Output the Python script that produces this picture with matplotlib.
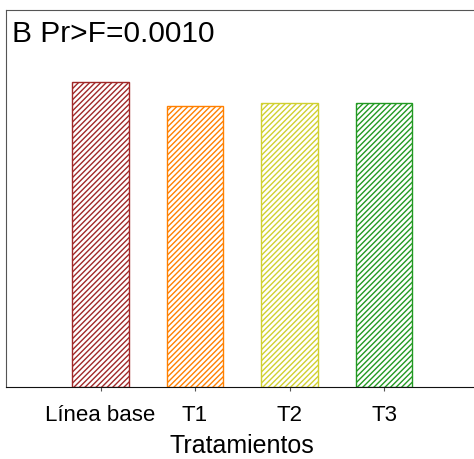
import matplotlib
matplotlib.use("Agg")
import matplotlib.pyplot as plt

categories = ["Línea base", "T1", "T2", "T3"]
values = [80.9, 74.5, 75.3, 75.3]
colors = ["#a02828", "#ff8000", "#d0d030", "#229922"]
annotation = "B Pr>F=0.0010"
xlabel = "Tratamientos"

plt.rcParams['font.family'] = ['Liberation Sans', 'DejaVu Sans']
plt.rcParams['hatch.linewidth'] = 1.0

fig = plt.figure(figsize=(4.74, 4.60), dpi=100)
ax = fig.add_axes([6/474, 1-388/460, 472.5/474, 377/460])

x = list(range(len(categories)))
for xi, v, c in zip(x, values, colors):
    ax.bar(xi, v, width=0.6, facecolor="white", edgecolor=c, hatch="//////", linewidth=1.0)

ax.set_xlim(-1, 4)
ax.set_ylim(0, 100)
ax.set_xticks(x)
ax.set_xticklabels(categories, fontsize=16)
ax.set_yticks([])
ax.tick_params(axis='x', length=3, color="#555555", pad=9)
ax.set_xlabel(xlabel, fontsize=18, labelpad=6)
for s in ["left", "top", "bottom", "right"]:
    ax.spines[s].set_color("#555555")
ax.spines["bottom"].set_color("#111111")
ax.text(0.012, 0.94, annotation, transform=ax.transAxes, fontsize=21.5, va="center", ha="left")

fig.savefig("out.png", dpi=100)
